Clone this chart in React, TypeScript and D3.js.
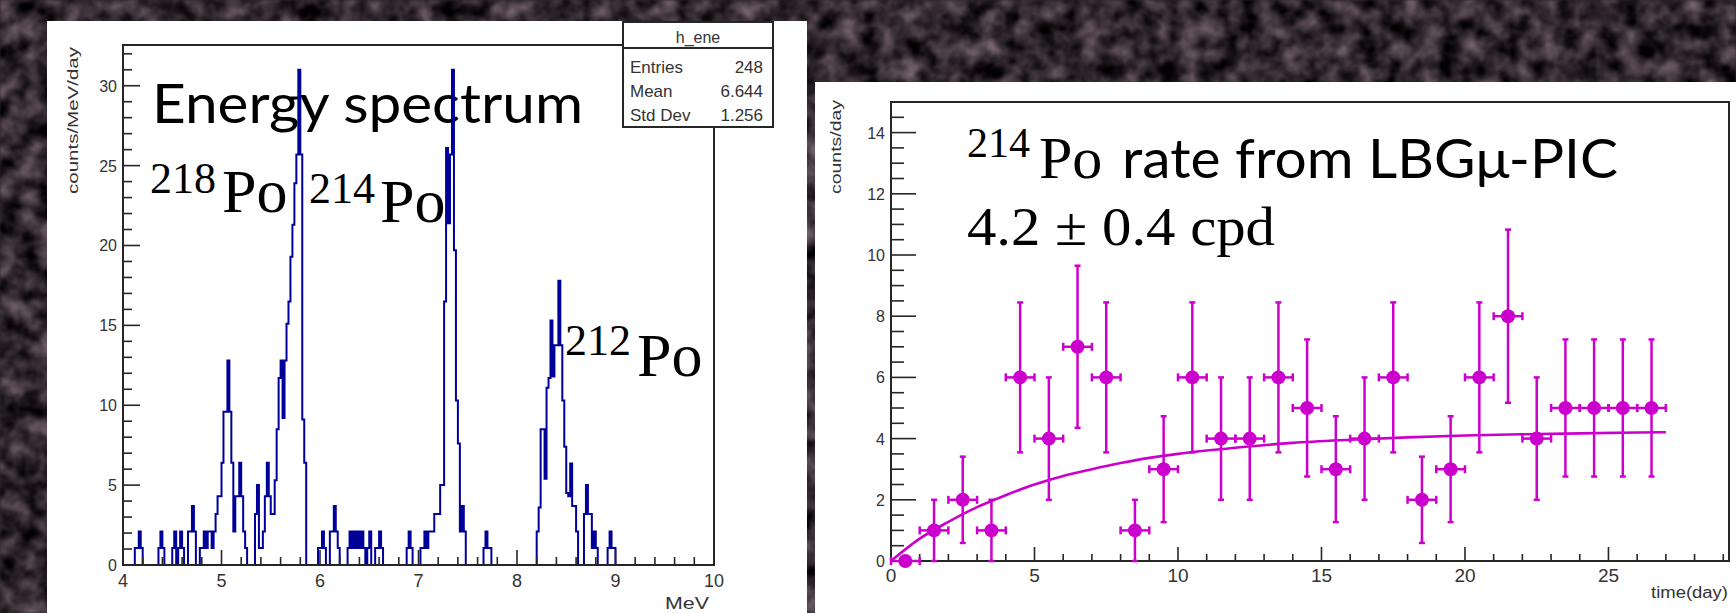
import * as d3 from 'd3';

// ---- energy spectrum (h_ene), non-empty 0.02 MeV bins: [low edge MeV, counts/MeV/day]
const spectrumBins: [number, number][] = [
  [4.12, 1.06], [4.14, 1.06], [4.16, 2.1], [4.18, 1.06],
  [4.36, 1.06], [4.38, 2.1], [4.40, 1.06],
  [4.50, 1.06], [4.52, 2.1],
  [4.56, 1.06], [4.58, 2.1], [4.60, 1.06],
  [4.66, 2.1], [4.68, 2.1], [4.70, 3.7], [4.72, 2.1],
  [4.78, 1.06], [4.80, 1.06], [4.82, 2.1], [4.84, 1.06], [4.86, 2.1], [4.88, 2.1], [4.90, 1.06],
  [4.92, 2.1], [4.94, 3.2], [4.96, 4.3], [4.98, 4.3], [5.00, 6.4], [5.02, 9.6], [5.04, 9.6],
  [5.06, 12.8], [5.08, 9.6], [5.10, 6.4], [5.12, 2.1], [5.14, 4.3], [5.16, 4.3], [5.18, 6.4],
  [5.20, 4.3], [5.22, 2.1], [5.24, 1.06],
  [5.34, 3.2], [5.36, 5.0], [5.38, 1.06], [5.40, 1.06], [5.42, 2.1], [5.44, 4.3], [5.46, 6.4],
  [5.48, 4.3], [5.50, 3.2], [5.52, 3.2], [5.54, 5.3], [5.56, 8.5], [5.58, 11.7], [5.60, 12.8],
  [5.62, 9.2], [5.64, 12.8], [5.66, 15.1], [5.68, 16.5], [5.70, 19.3], [5.72, 21.3], [5.74, 23.9],
  [5.76, 25.7], [5.78, 31], [5.80, 25.7], [5.82, 9.1], [5.84, 6.4],
  [5.98, 1.06], [6.00, 1.06], [6.02, 2.1], [6.04, 1.06],
  [6.10, 2.1], [6.12, 2.1], [6.14, 3.7], [6.16, 2.1], [6.18, 1.06],
  [6.28, 1.06], [6.30, 2.1], [6.32, 1.06], [6.34, 2.1], [6.36, 1.06], [6.38, 2.1], [6.40, 1.06],
  [6.42, 2.1], [6.44, 1.06], [6.48, 1.06], [6.50, 2.1],
  [6.56, 1.06], [6.58, 1.06], [6.60, 2.1], [6.62, 1.06],
  [6.88, 1.06], [6.90, 2.1], [6.92, 1.06],
  [7.02, 1.06], [7.04, 1.06], [7.06, 2.1], [7.08, 1.06], [7.10, 2.1], [7.12, 2.1], [7.14, 2.1],
  [7.16, 3.2], [7.18, 3.2], [7.20, 3.2], [7.22, 5.0], [7.24, 5.0], [7.26, 16.5], [7.28, 26.1],
  [7.30, 21.4], [7.32, 25.7], [7.34, 31], [7.36, 19.7], [7.38, 10.3], [7.40, 7.6], [7.42, 2.1],
  [7.44, 3.7], [7.46, 2.1],
  [7.66, 1.06], [7.68, 2.1], [7.70, 1.06], [7.72, 1.06],
  [8.20, 2.1], [8.22, 3.6], [8.24, 8.5], [8.26, 8.5], [8.28, 5.4], [8.30, 11.1], [8.32, 11.7],
  [8.34, 15.3], [8.36, 11.8], [8.38, 13.75], [8.40, 13.75], [8.42, 17.8], [8.44, 13.75],
  [8.46, 10.3], [8.48, 7.4], [8.50, 4.5], [8.52, 4.3], [8.54, 6.35], [8.56, 3.7], [8.58, 3.7],
  [8.60, 2.1],
  [8.68, 3.2], [8.70, 5.0], [8.72, 3.2], [8.74, 3.2], [8.76, 1.06], [8.78, 2.1], [8.80, 1.06],
  [8.92, 1.06], [8.94, 2.1], [8.96, 1.06], [8.98, 1.06],
];
const energyTicks = [4, 5, 6, 7, 8, 9, 10];
const spectrumTicks = [0, 5, 10, 15, 20, 25, 30];
const statsRows = ['Entries', 'Mean', 'Std Dev'];
const statsValues = ['248', '6.644', '1.256'];

// ---- 214Po rate vs time
const rateDays = [0.5, 1.5, 2.5, 3.5, 4.5, 5.5, 6.5, 7.5, 8.5, 9.5, 10.5, 11.5, 12.5, 13.5,
  14.5, 15.5, 16.5, 17.5, 18.5, 19.5, 20.5, 21.5, 22.5, 23.5, 24.5, 25.5, 26.5];
const rateCounts = [0, 1, 2, 1, 6, 4, 7, 6, 1, 3, 6, 4, 4, 6, 5, 3, 4, 6, 2, 3, 6, 8, 4, 5, 5, 5, 5];
const rateErrors = [0, 1, 1.41, 1, 2.45, 2, 2.65, 2.45, 1, 1.73, 2.45, 2, 2, 2.45, 2.24, 1.73,
  2, 2.45, 1.41, 1.73, 2.45, 2.83, 2, 2.24, 2.24, 2.24, 2.24];
const fitDays = [0, 1, 2, 3, 4, 5, 6, 7, 8, 9, 10, 12, 14, 16, 18, 20, 22, 24, 26, 27];
const fitRates = [0, 0.73, 1.28, 1.76, 2.15, 2.5, 2.78, 3.0, 3.2, 3.37, 3.5, 3.7, 3.86, 3.96,
  4.04, 4.1, 4.14, 4.17, 4.2, 4.21];
const dayTicks = [0, 5, 10, 15, 20, 25];
const rateTicks = [0, 2, 4, 6, 8, 10, 12, 14];

const ROOT_FONT = '"Liberation Sans", Arial, Helvetica, sans-serif';
const SANS = 'Lato, "Open Sans", sans-serif';
const SERIF = '"Liberation Serif", "DejaVu Serif", serif';
const AXIS = '#262626';
const BLUE = '#000099';
const MAGENTA = '#cc00cc';

export default function App() {
  // left frame
  const L = { x0: 123, x1: 714, y0: 45, y1: 565 };
  const ex = d3.scaleLinear().domain([4, 10]).range([L.x0, L.x1]);
  const ey = d3.scaleLinear().domain([0, 32.55]).range([L.y1, L.y0]);

  const binW = 0.02;
  const dense: number[] = new Array(300).fill(0);
  spectrumBins.forEach(([e, v]) => { dense[Math.round((e - 4) / binW)] = v; });
  const histPts: [number, number][] = dense.map((v, i) => [4 + i * binW, v]);
  histPts.push([10, 0]);
  const histPath = d3.line<[number, number]>()
    .x(d => ex(d[0])).y(d => ey(d[1]))
    .curve(d3.curveStepAfter)(histPts) || '';

  // right frame
  const R = { x0: 891, x1: 1729, y0: 102, y1: 561 };
  const tx = d3.scaleLinear().domain([0, 29.2]).range([R.x0, R.x1]);
  const ry = d3.scaleLinear().domain([0, 15]).range([R.y1, R.y0]);
  const fitPath = d3.line<number>()
    .x((_, i) => tx(fitDays[i])).y(d => ry(d))
    .curve(d3.curveMonotoneX)(fitRates) || '';

  const eMinor = d3.range(4, 10.001, 0.2);
  const sMinor = d3.range(0, 32.6, 1);
  const dMinor = d3.range(0, 29.2, 1);
  const rMinor = d3.range(0, 15.01, 0.5);

  const box = { x0: 623, x1: 773, y0: 22, y1: 127 };

  return (
    <svg width={1736} height={613} style={{ position: 'absolute', left: 0, top: 0, display: 'block' }}>
      <defs>
        <filter id="granite" x="0" y="0" width="1736" height="613" filterUnits="userSpaceOnUse"
          colorInterpolationFilters="sRGB">
          <feTurbulence type="fractalNoise" baseFrequency="0.05" numOctaves={4} seed={11} />
          <feColorMatrix type="matrix"
            values="0.72 0 0 0 -0.17  0.62 0 0 0 -0.155  0.68 0 0 0 -0.16  0 0 0 0 1" />
          <feGaussianBlur stdDeviation="0.8" />
        </filter>
      </defs>
      <rect width={1736} height={613} fill="#2e262b" />
      <rect width={1736} height={613} filter="url(#granite)" />

      {/* ================= left panel: energy spectrum ================= */}
      <rect x={47} y={21} width={760} height={592} fill="#fff" />

      <text x={152} y={123} fontFamily={SANS} fontSize={54} textLength={431}
        lengthAdjust="spacingAndGlyphs" fill="#000">Energy spectrum</text>
      <text x={150} y={193} fontFamily={SERIF} fontSize={44} fill="#000">218</text>
      <text x={222} y={212} fontFamily={SERIF} fontSize={62} fill="#000">Po</text>
      <text x={309} y={203} fontFamily={SERIF} fontSize={44} fill="#000">214</text>
      <text x={380} y={222} fontFamily={SERIF} fontSize={62} fill="#000">Po</text>
      <text x={565} y={355} fontFamily={SERIF} fontSize={44} fill="#000">212</text>
      <text x={637} y={376} fontFamily={SERIF} fontSize={62} fill="#000">Po</text>

      <path d={histPath} fill="none" stroke={BLUE} strokeWidth={2} />

      {/* frame */}
      <path d={`M${box.x0},${L.y0}H${L.x0}V${L.y1}H${L.x1}V${box.y1}`}
        fill="none" stroke={AXIS} strokeWidth={2} />
      {eMinor.map((v, i) => {
        const major = Math.abs(v - Math.round(v)) < 1e-6;
        return <line key={'em' + i} x1={ex(v)} x2={ex(v)} y1={L.y1} y2={L.y1 - (major ? 15 : 8)}
          stroke={AXIS} strokeWidth={1.6} />;
      })}
      {sMinor.map((v, i) => (
        <line key={'sm' + i} x1={L.x0} x2={L.x0 + (v % 5 === 0 ? 17 : 9)} y1={ey(v)} y2={ey(v)}
          stroke={AXIS} strokeWidth={1.6} />
      ))}
      {energyTicks.map(v => (
        <text key={'el' + v} x={ex(v)} y={587} textAnchor="middle" fontFamily={ROOT_FONT}
          fontSize={18} fill="#333">{v}</text>
      ))}
      {spectrumTicks.map(v => (
        <text key={'sl' + v} x={117} y={ey(v) + 6} textAnchor="end" fontFamily={ROOT_FONT}
          fontSize={16} fill="#333">{v}</text>
      ))}
      <text transform="translate(78,47) rotate(-90)" textAnchor="end" fontFamily={ROOT_FONT}
        fontSize={15} textLength={147} lengthAdjust="spacingAndGlyphs" fill="#333">counts/MeV/day</text>
      <text x={709} y={609} textAnchor="end" fontFamily={ROOT_FONT} fontSize={17} textLength={44}
        lengthAdjust="spacingAndGlyphs" fill="#333">MeV</text>

      {/* stats box */}
      <rect x={box.x0} y={box.y0} width={box.x1 - box.x0} height={box.y1 - box.y0}
        fill="#fff" stroke={AXIS} strokeWidth={2} />
      <line x1={box.x0} x2={box.x1} y1={48} y2={48} stroke={AXIS} strokeWidth={2} />
      <text x={(box.x0 + box.x1) / 2} y={43} textAnchor="middle" fontFamily={ROOT_FONT}
        fontSize={16} fill="#333">h_ene</text>
      {statsRows.map((r, i) => (
        <g key={r}>
          <text x={630} y={73 + i * 24} fontFamily={ROOT_FONT} fontSize={17} fill="#333">{r}</text>
          <text x={763} y={73 + i * 24} textAnchor="end" fontFamily={ROOT_FONT} fontSize={17}
            fill="#333">{statsValues[i]}</text>
        </g>
      ))}

      {/* ================= right panel: 214Po rate ================= */}
      <rect x={815} y={82} width={921} height={531} fill="#fff" />

      <text x={967} y={157} fontFamily={SERIF} fontSize={42} fill="#000">214</text>
      <text x={1039} y={178} fontFamily={SERIF} fontSize={60} fill="#000">Po</text>
      <text x={1122} y={178} fontFamily={SANS} fontSize={54} textLength={496}
        lengthAdjust="spacingAndGlyphs" fill="#000">rate from LBGμ-PIC</text>
      <text x={967} y={245} fontFamily={SERIF} fontSize={55} textLength={308}
        lengthAdjust="spacingAndGlyphs" fill="#000">4.2 ±  0.4 cpd</text>

      <rect x={R.x0} y={R.y0} width={R.x1 - R.x0} height={R.y1 - R.y0} fill="none"
        stroke={AXIS} strokeWidth={2} />
      {dMinor.map((v, i) => (
        <line key={'dm' + i} x1={tx(v)} x2={tx(v)} y1={R.y1} y2={R.y1 - (v % 5 === 0 ? 14 : 7)}
          stroke={AXIS} strokeWidth={1.6} />
      ))}
      {rMinor.map((v, i) => (
        <line key={'rm' + i} x1={R.x0} x2={R.x0 + (v % 2 === 0 ? 25 : 13)} y1={ry(v)} y2={ry(v)}
          stroke={AXIS} strokeWidth={1.6} />
      ))}
      {dayTicks.map(v => (
        <text key={'dl' + v} x={tx(v)} y={582} textAnchor="middle" fontFamily={ROOT_FONT}
          fontSize={19} fill="#333">{v}</text>
      ))}
      {rateTicks.map(v => (
        <text key={'rl' + v} x={885} y={ry(v) + 6} textAnchor="end" fontFamily={ROOT_FONT}
          fontSize={16} fill="#333">{v}</text>
      ))}
      <text transform="translate(841,100) rotate(-90)" textAnchor="end" fontFamily={ROOT_FONT}
        fontSize={15} textLength={94} lengthAdjust="spacingAndGlyphs" fill="#333">counts/day</text>
      <text x={1728} y={598} textAnchor="end" fontFamily={ROOT_FONT} fontSize={16} textLength={77}
        lengthAdjust="spacingAndGlyphs" fill="#333">time(day)</text>

      <path d={fitPath} fill="none" stroke={MAGENTA} strokeWidth={2.6} />

      {rateDays.map((t, i) => {
        const v = rateCounts[i];
        const e = rateErrors[i];
        const cx = tx(t);
        const cy = ry(v);
        return (
          <g key={'pt' + i} stroke={MAGENTA} strokeWidth={2.5}>
            <line x1={tx(t - 0.5)} x2={tx(t + 0.5)} y1={cy} y2={cy} />
            <line x1={tx(t - 0.5)} x2={tx(t - 0.5)} y1={cy - 4} y2={cy + 4} />
            <line x1={tx(t + 0.5)} x2={tx(t + 0.5)} y1={cy - 4} y2={cy + 4} />
            {e > 0 && (
              <>
                <line x1={cx} x2={cx} y1={ry(v + e)} y2={ry(v - e)} />
                <line x1={cx - 3} x2={cx + 3} y1={ry(v + e)} y2={ry(v + e)} />
                <line x1={cx - 3} x2={cx + 3} y1={ry(v - e)} y2={ry(v - e)} />
              </>
            )}
            <circle cx={cx} cy={cy} r={7} fill={MAGENTA} stroke="none" />
          </g>
        );
      })}
    </svg>
  );
}
